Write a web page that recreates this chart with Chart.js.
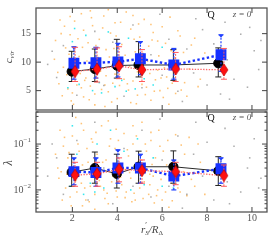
<!DOCTYPE html>
<html><head><meta charset="utf-8">
<script src="https://cdn.jsdelivr.net/npm/chart.js@4/dist/chart.umd.min.js"></script>
<style>
html,body{margin:0;padding:0;background:#fff;width:269px;height:245px;overflow:hidden;position:relative}
#c1{position:absolute;left:0;top:0;width:269px;height:111px}
#c2{position:absolute;left:0;top:111px;width:269px;height:134px}
</style></head>
<body>
<canvas id="c1" width="269" height="111"></canvas>
<canvas id="c2" width="269" height="134"></canvas>
<script>
// ---------- data ----------
const xTicks = [2, 4, 6, 8, 10];
const cTicks = [5, 10, 15];
const lamTicks = [0.01, 0.1];
const lamTickExp = ['\u22122', '\u22121'];

const xBlack = [1.97, 3.0, 3.98, 4.95, 6.5, 8.5];
const xBlue  = [2.07, 3.05, 4.03, 5.03, 6.52, 8.62];
const xRed   = [2.12, 3.1, 4.08, 5.1, 6.6, 8.75];

const cBlack   = [8.35, 8.8, 9.4, 9.5, 9.5, 9.8];
const cBlackLo = [6.6, 6.6, 7.2, 7.4, 6.8, 7.4];
const cBlackHi = [11.9, 12.3, 14.0, 13.6, 12.2, 12.5];
const cBlue    = [9.8, 9.9, 10.05, 10.6, 9.5, 11.3];
const cBlueLo  = [7.0, 7.2, 7.4, 7.8, 7.0, 8.4];
const cBlueHi  = [12.7, 12.6, 13.3, 13.6, 12.4, 14.8];
const cRed     = [8.35, 8.77, 9.35, 8.65, 8.8, 8.65];
const cRedLo   = [6.6, 6.5, 7.1, 6.6, 6.6, 7.0];
const cRedHi   = [12.6, 12.5, 12.7, 12.2, 11.7, 12.4];

const lBlack   = [0.0244, 0.030, 0.0224, 0.032, 0.032, 0.026];
const lBlackLo = [0.012, 0.014, 0.011, 0.014, 0.014, 0.0125];
const lBlackHi = [0.060, 0.067, 0.060, 0.070, 0.071, 0.053];
const lBlue    = [0.025, 0.024, 0.030, 0.030, 0.020, 0.029];
const lBlueLo  = [0.013, 0.012, 0.014, 0.014, 0.010, 0.014];
const lBlueHi  = [0.050, 0.050, 0.075, 0.060, 0.045, 0.050];
const lRed     = [0.021, 0.0224, 0.028, 0.0265, 0.025, 0.0205];
const lRedLo   = [0.012, 0.012, 0.015, 0.014, 0.013, 0.012];
const lRedHi   = [0.040, 0.040, 0.050, 0.045, 0.040, 0.035];

const topOrange = [[1.4,6.2],[1.6,9.1],[1.7,12.5],[1.8,5.3],[1.9,14.8],[2.0,4.6],[2.1,17.2],[2.2,6.0],[2.3,11.0],[2.4,5.5],[2.5,15.6],[2.5,3.9],[2.6,7.2],[2.7,13.4],[2.8,5.8],[2.9,16.4],[3.0,4.4],[3.1,6.6],[3.2,14.0],[3.3,5.2],[3.4,18.1],[3.5,7.6],[3.5,12.2],[3.6,4.8],[3.7,15.1],[3.8,6.3],[3.9,16.9],[4.0,3.6],[4.1,5.9],[4.2,13.1],[4.3,7.0],[4.4,18.8],[4.5,5.1],[4.6,15.8],[4.7,6.7],[4.8,11.8],[4.9,4.2],[5.0,14.4],[5.1,6.1],[5.2,17.5],[5.3,5.6],[5.4,12.8],[5.5,3.3],[5.6,15.2],[5.7,6.9],[5.8,13.7],[5.9,5.0],[6.0,16.2],[6.2,7.4],[6.4,12.0],[6.6,4.5],[6.8,14.6],[7.0,6.4],[7.3,13.0],[7.6,5.7],[1.2,10.5],[1.5,15.0],[2.35,8.0],[3.15,10.8],[4.25,9.8],[5.35,10.2],[6.1,9.0],[2.05,2.6],[3.45,2.2],[4.6,2.9],[1.9,18.0],[2.8,19.0],[3.9,7.9],[4.9,8.3],[5.8,8.6],
  [1.35,8.2],[1.55,4.1],[1.65,16.3],[1.75,7.8],[1.85,11.4],[1.95,3.2],[2.15,9.4],[2.25,14.1],[2.45,12.6],[2.55,6.8],[2.65,10.2],[2.75,3.4],[2.85,17.8],[2.95,9.9],[3.05,12.9],[3.25,8.4],[3.35,16.0],[3.45,6.0],[3.65,10.9],[3.75,3.0],[3.85,12.4],[3.95,14.6],[4.05,8.9],[4.15,17.0],[4.35,11.2],[4.45,6.2],[4.55,9.3],[4.75,14.0],[4.85,2.7],[4.95,16.7],[5.05,7.6],[5.15,11.5],[5.25,4.3],[5.45,8.0],[5.55,13.9],[5.65,4.9],[5.85,11.1],[5.95,7.2],[6.05,3.8],[6.15,13.3],[6.25,5.4],[6.35,17.9],[6.45,6.3],[6.55,10.6],[6.7,15.5],[6.85,5.1],[6.95,11.7],[7.1,4.0],[7.2,8.8],[7.45,14.2],[7.7,7.0],[7.9,11.6],[1.25,13.8],[1.45,17.4],[2.4,18.5],[3.6,19.2],[4.7,18.2],[5.5,16.6],[6.3,2.6],[3.0,2.5]];
const topCyan = [[1.8,5.5],[2.0,13.6],[2.3,6.1],[2.6,14.7],[2.9,5.0],[3.2,6.4],[3.6,15.3],[3.9,5.7],[4.2,6.8],[4.5,14.2],[4.8,5.3],[5.2,7.1],[5.6,6.0],[6.0,12.6],[6.5,7.3],[2.1,15.9],[3.3,4.6],[4.4,4.9]];
const topGray = [[0.9,9.6],[1.3,7.3],[1.6,12.9],[2.2,4.2],[2.7,8.6],[3.0,15.4],[3.4,5.9],[3.8,13.5],[4.3,4.0],[4.7,16.5],[5.1,5.5],[5.5,11.3],[6.0,7.7],[6.3,14.0],[6.7,4.9],[7.1,12.3],[7.4,8.1],[7.8,15.7],[8.0,6.0],[8.3,13.2],[8.6,4.4],[8.9,10.4],[9.2,7.0],[9.5,14.9],[9.8,5.6],[10.1,12.0],[10.3,8.7],[7.5,17.6],[8.8,17.0],[9.9,16.1],[6.9,3.1],[9.0,3.5],[10.4,13.8],[5.9,18.4],[1.1,11.9]];

const botOrange = [[1.4,0.018],[1.6,0.09],[1.7,0.011],[1.8,0.05],[1.9,0.007],[2.0,0.15],[2.1,0.03],[2.2,0.009],[2.3,0.07],[2.4,0.014],[2.5,0.2],[2.6,0.006],[2.7,0.04],[2.8,0.012],[2.9,0.11],[3.0,0.008],[3.1,0.06],[3.2,0.016],[3.3,0.25],[3.4,0.01],[3.5,0.045],[3.6,0.005],[3.7,0.13],[3.8,0.02],[3.9,0.08],[4.0,0.007],[4.1,0.035],[4.2,0.013],[4.3,0.17],[4.4,0.009],[4.5,0.055],[4.6,0.018],[4.7,0.1],[4.8,0.006],[4.9,0.04],[5.0,0.011],[5.1,0.3],[5.2,0.015],[5.3,0.07],[5.4,0.008],[5.5,0.12],[5.6,0.02],[5.7,0.05],[5.8,0.01],[5.9,0.09],[6.0,0.006],[6.2,0.035],[6.4,0.014],[6.6,0.16],[6.8,0.009],[7.0,0.06],[7.3,0.017],[7.6,0.1],[1.5,0.025],[2.45,0.0045],[3.55,0.0085],[4.65,0.0055],[5.75,0.0075],[2.15,0.38],[3.95,0.21],[2.85,0.13],[4.35,0.028],[5.45,0.022],
  [1.35,0.03],[1.55,0.006],[1.65,0.14],[1.75,0.022],[1.85,0.065],[1.95,0.0045],[2.15,0.016],[2.25,0.1],[2.45,0.035],[2.55,0.011],[2.65,0.08],[2.75,0.0055],[2.85,0.027],[2.95,0.05],[3.05,0.18],[3.25,0.012],[3.35,0.04],[3.45,0.0065],[3.65,0.09],[3.75,0.015],[3.85,0.033],[3.95,0.0095],[4.05,0.12],[4.15,0.019],[4.35,0.0068],[4.45,0.075],[4.55,0.024],[4.75,0.0085],[4.85,0.15],[4.95,0.016],[5.05,0.045],[5.15,0.0065],[5.25,0.1],[5.45,0.013],[5.55,0.036],[5.65,0.0052],[5.85,0.2],[5.95,0.017],[6.05,0.07],[6.15,0.009],[6.25,0.12],[6.35,0.02],[6.45,0.0058],[6.55,0.045],[6.7,0.011],[6.85,0.095],[6.95,0.025],[7.1,0.0075],[7.2,0.14],[7.45,0.012],[7.7,0.04],[7.9,0.008],[1.25,0.06],[1.45,0.2],[2.4,0.28],[3.6,0.32],[4.7,0.25],[5.5,0.18],[6.3,0.0042],[3.0,0.0038]];
const botCyan = [[1.9,0.012],[2.2,0.06],[2.5,0.008],[2.8,0.014],[3.1,0.1],[3.4,0.011],[3.7,0.2],[4.0,0.015],[4.3,0.07],[4.6,0.01],[4.9,0.13],[5.2,0.013],[5.6,0.05],[6.0,0.012],[6.5,0.011],[2.0,0.25],[3.0,0.009]];
const botGray = [[0.9,0.02],[1.3,0.05],[1.6,0.008],[2.2,0.12],[2.7,0.006],[3.0,0.3],[3.4,0.03],[3.8,0.005],[4.3,0.08],[4.7,0.012],[5.1,0.2],[5.5,0.007],[6.0,0.045],[6.3,0.012],[6.7,0.15],[7.1,0.008],[7.4,0.06],[7.8,0.02],[8.0,0.11],[8.3,0.006],[8.6,0.04],[8.9,0.015],[9.2,0.09],[9.5,0.009],[9.8,0.03],[10.1,0.13],[10.3,0.011],[7.5,0.3],[8.8,0.22],[9.9,0.05],[6.9,0.004],[9.0,0.005],[10.4,0.018],[5.9,0.35],[1.1,0.1]];

// ---------- helpers ----------
const SERIF = "'Liberation Serif','DejaVu Serif',serif";
Chart.defaults.font.family = SERIF;
const pts = (xs, ys) => xs.map((x, i) => ({x: x, y: ys[i]}));
const pairs = arr => arr.map(p => ({x: p[0], y: p[1]}));

function diamond(w, h) {
  const c = document.createElement('canvas');
  c.width = w + 2; c.height = h + 2;
  const g = c.getContext('2d');
  g.beginPath();
  g.moveTo(c.width / 2, 1); g.lineTo(w + 1, c.height / 2);
  g.lineTo(c.width / 2, h + 1); g.lineTo(1, c.height / 2); g.closePath();
  g.fillStyle = '#ff1010'; g.fill();
  g.strokeStyle = '#c00000'; g.lineWidth = 0.7; g.stroke();
  return c;
}
const redDiamond = diamond(8, 12);

function dotSet(data, color, ord) {
  return {data: pairs(data), pointStyle: 'rect', pointRadius: 1.1, pointBorderWidth: 0,
    backgroundColor: color, borderColor: color, showLine: false, order: ord};
}
function series(xs, ys, lo, hi, kind) {
  const base = {data: pts(xs, ys), showLine: true, errLo: lo, errHi: hi};
  if (kind === 'black') return Object.assign(base, {order: 2, borderColor: '#2a2a2a', borderWidth: 1,
    pointStyle: 'circle', pointRadius: 4.6, backgroundColor: '#000', pointBorderColor: '#000',
    errColor: '#222', errWidth: 1, errDash: [], errCap: 3});
  if (kind === 'blue') return Object.assign(base, {order: 1, borderColor: '#1530ff', borderWidth: 2.4,
    borderDash: [2.4, 2.4], pointStyle: 'rect', pointRadius: 6, backgroundColor: '#1530ff', pointBorderColor: '#1530ff',
    errColor: '#2040ff', errWidth: 1.2, errDash: [2, 1.5], errCap: 2.5, errTri: true});
  return Object.assign(base, {order: 0, borderColor: '#ff6a6a', borderWidth: 1.3,
    borderDash: [1.4, 1.4], pointStyle: redDiamond, pointRadius: 6, backgroundColor: '#ff1010',
    errColor: '#ff5a5a', errWidth: 1, errDash: [2, 1.2], errCap: 3});
}

const errPlugin = {
  id: 'errbars',
  beforeDatasetDraw(chart, args) {
    const ds = chart.data.datasets[args.index];
    if (!ds.errLo) return;
    const ctx = chart.ctx, xs = chart.scales.x, ys = chart.scales.y;
    ctx.save();
    ctx.strokeStyle = ds.errColor; ctx.fillStyle = ds.errColor; ctx.lineWidth = ds.errWidth;
    ds.data.forEach((p, i) => {
      const px = xs.getPixelForValue(p.x);
      const y1 = ys.getPixelForValue(ds.errLo[i]), y2 = ys.getPixelForValue(ds.errHi[i]);
      ctx.setLineDash(ds.errDash);
      ctx.beginPath(); ctx.moveTo(px, y1); ctx.lineTo(px, y2); ctx.stroke();
      ctx.setLineDash([]);
      [y1, y2].forEach((yy, k) => {
        ctx.beginPath(); ctx.moveTo(px - ds.errCap, yy); ctx.lineTo(px + ds.errCap, yy); ctx.stroke();
        if (ds.errTri && k === 1) {
          ctx.beginPath(); ctx.moveTo(px - 2.5, yy); ctx.lineTo(px + 2.5, yy); ctx.lineTo(px, yy + 3); ctx.closePath(); ctx.fill();
        }
      });
    });
    ctx.restore();
  }
};

// draw a sequence of text parts; align: 'center' or 'right'
function drawParts(ctx, parts, x0, cy, align) {
  let total = 0;
  parts.forEach(p => { ctx.font = p.font; p.w = p.adv === 0 ? 0 : ctx.measureText(p.t).width; total += p.w; });
  let x = align === 'right' ? x0 - total : x0 - total / 2;
  ctx.textBaseline = 'middle'; ctx.textAlign = 'left';
  parts.forEach(p => { ctx.font = p.font; ctx.fillText(p.t, x, cy + (p.dy || 0)); x += p.w; });
}

function framePlugin(cfg) {
  return {
    id: 'frame',
    afterDatasetsDraw(chart) {
      const ctx = chart.ctx, a = chart.chartArea, xs = chart.scales.x, ys = chart.scales.y;
      ctx.save();
      ctx.strokeStyle = '#555'; ctx.lineWidth = 1.3;
      ctx.strokeRect(a.left, a.top, a.right - a.left, a.bottom - a.top);
      ctx.lineWidth = 1; ctx.strokeStyle = '#444';
      const seg = (x1, y1, x2, y2) => { ctx.beginPath(); ctx.moveTo(x1, y1); ctx.lineTo(x2, y2); ctx.stroke(); };
      xTicks.forEach(v => { const px = xs.getPixelForValue(v); seg(px, a.bottom, px, a.bottom - 5); seg(px, a.top, px, a.top + 5); });
      cfg.yMajor.forEach(v => { const py = ys.getPixelForValue(v); seg(a.left, py, a.left + 5, py); seg(a.right, py, a.right - 5, py); });
      (cfg.yMinor || []).forEach(v => { const py = ys.getPixelForValue(v); if (py < a.top || py > a.bottom) return; seg(a.left, py, a.left + 2.5, py); seg(a.right, py, a.right - 2.5, py); });
      ctx.fillStyle = '#555';
      cfg.yMajor.forEach((v, i) => {
        const py = ys.getPixelForValue(v);
        drawParts(ctx, cfg.yLabel(v, i), a.left - 5, py, 'right');
      });
      if (cfg.xLabels) {
        xTicks.forEach(v => {
          const px = xs.getPixelForValue(v);
          drawParts(ctx, [{t: String(v), font: '10px ' + SERIF}], px, a.bottom + 6.5, 'center');
        });
      }
      ctx.fillStyle = '#111';
      drawParts(ctx, [{t: 'Q', font: '10px ' + SERIF}], 211, a.top + cfg.qdy, 'center');
      ctx.fillStyle = '#555';
      drawParts(ctx, [{t: 'z = 0', font: 'italic 9px ' + SERIF}], 242, a.top + cfg.qdy, 'center');
      ctx.save();
      ctx.translate(9, cfg.titleY); ctx.rotate(-Math.PI / 2);
      ctx.fillStyle = '#444';
      drawParts(ctx, cfg.yTitle, 0, 0, 'center');
      ctx.restore();
      if (cfg.xTitle) { ctx.fillStyle = '#444'; drawParts(ctx, cfg.xTitle, 152, cfg.xTitleY, 'center'); }
      ctx.restore();
    }
  };
}

const fixY = s => { s.width = 36; };
const fixX = s => { s.height = 33; };
const xRange = {type: 'linear', min: 0.38, max: 10.67};
const ORANGE = 'rgba(255,170,60,0.7)', CYAN = 'rgba(0,225,235,0.8)', GRAY = 'rgba(120,120,120,0.6)';
const hiddenAxis = {grid: {display: false}, border: {display: false}, ticks: {display: false}};

// ---------- top chart ----------
new Chart(document.getElementById('c1'), {
  type: 'scatter',
  data: {datasets: [
    series(xBlack, cBlack, cBlackLo, cBlackHi, 'black'),
    series(xBlue, cBlue, cBlueLo, cBlueHi, 'blue'),
    series(xRed, cRed, cRedLo, cRedHi, 'red'),
    dotSet(topCyan, CYAN, 3),
    dotSet(topGray, GRAY, 4),
    dotSet(topOrange, ORANGE, 5)
  ]},
  options: {
    responsive: false, animation: false, devicePixelRatio: 1,
    layout: {autoPadding: false, padding: {left: 0, right: 2, top: 8, bottom: 1}},
    plugins: {legend: {display: false}, tooltip: {enabled: false}},
    scales: {
      x: Object.assign({display: false}, xRange),
      y: Object.assign({type: 'linear', min: 1.6, max: 19.5, afterFit: fixY}, hiddenAxis)
    }
  },
  plugins: [errPlugin, framePlugin({yMajor: cTicks, qdy: 7, titleY: 57,
    yLabel: v => [{t: String(v), font: '10px ' + SERIF}],
    yTitle: [{t: 'c', font: 'italic 11px ' + SERIF}, {t: 'vir', font: 'italic 7px ' + SERIF, dy: 3}]})]
});

// ---------- bottom chart ----------
const lamMinor = [];
[0.001, 0.01, 0.1].forEach(d => { for (let k = 2; k <= 9; k++) lamMinor.push(d * k); });
new Chart(document.getElementById('c2'), {
  type: 'scatter',
  data: {datasets: [
    series(xBlack, lBlack, lBlackLo, lBlackHi, 'black'),
    series(xBlue, lBlue, lBlueLo, lBlueHi, 'blue'),
    series(xRed, lRed, lRedLo, lRedHi, 'red'),
    dotSet(botCyan, CYAN, 3),
    dotSet(botGray, GRAY, 4),
    dotSet(botOrange, ORANGE, 5)
  ]},
  options: {
    responsive: false, animation: false, devicePixelRatio: 1,
    layout: {autoPadding: false, padding: {left: 0, right: 2, top: 1, bottom: 0}},
    plugins: {legend: {display: false}, tooltip: {enabled: false}},
    scales: {
      x: Object.assign({afterFit: fixX}, hiddenAxis, xRange),
      y: Object.assign({type: 'logarithmic', min: 0.0033, max: 0.5, afterFit: fixY}, hiddenAxis)
    }
  },
  plugins: [errPlugin, framePlugin({yMajor: lamTicks, yMinor: lamMinor, qdy: 6, titleY: 52, xLabels: true,
    yLabel: (v, i) => [{t: '10', font: '10px ' + SERIF}, {t: lamTickExp[i], font: '7px ' + SERIF, dy: -4}],
    yTitle: [{t: '\u03BB', font: 'italic 12px ' + SERIF}],
    xTitleY: 119,
    xTitle: [{t: 'r', font: 'italic 11px ' + SERIF}, {t: '\u2032', font: '8px ' + SERIF, dy: -4, adv: 0},
      {t: 'S', font: 'italic 7px ' + SERIF, dy: 3}, {t: '/R', font: 'italic 11px ' + SERIF},
      {t: '\u0394', font: '7px ' + SERIF, dy: 3}]})]
});
</script>
</body></html>
